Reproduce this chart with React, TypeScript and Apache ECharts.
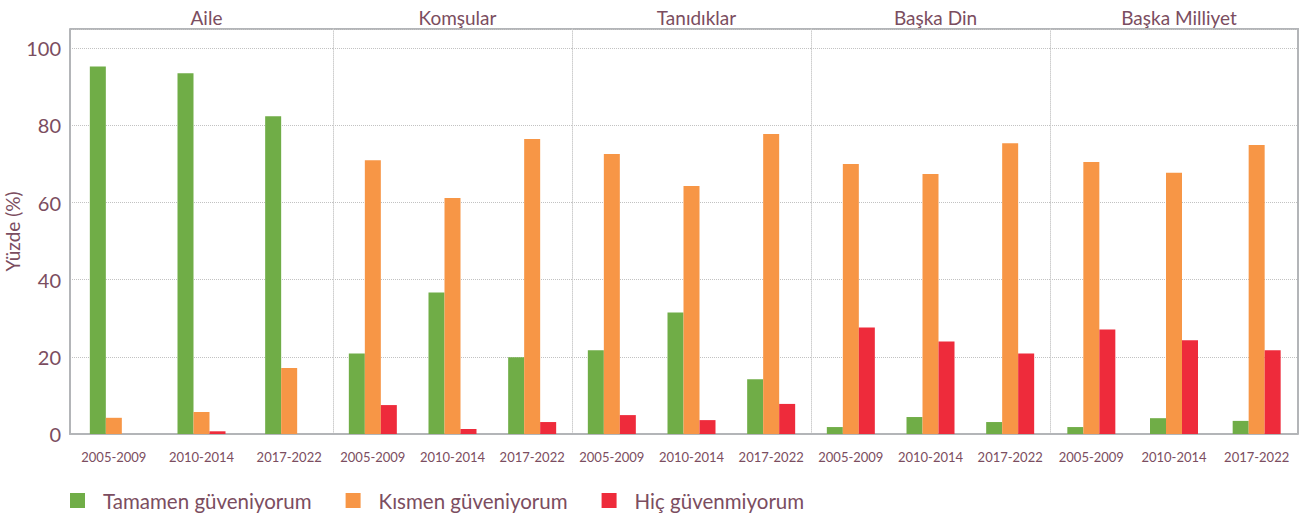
import React, { useEffect, useRef } from "react";
import * as echarts from "echarts";

const groups = ["Aile", "Komşular", "Tanıdıklar", "Başka Din", "Başka Milliyet"];
const periods = ["2005-2009", "2010-2014", "2017-2022"];
const seriesNames = ["Tamamen güveniyorum", "Kısmen güveniyorum", "Hiç güvenmiyorum"];

// values per group, per period
const tamamen = [
  [95.3, 93.5, 82.4],
  [20.9, 36.7, 19.9],
  [21.7, 31.5, 14.2],
  [1.8, 4.4, 3.1],
  [1.8, 4.1, 3.4],
];
const kismen = [
  [4.2, 5.7, 17.1],
  [71.0, 61.2, 76.5],
  [72.6, 64.3, 77.8],
  [70.0, 67.4, 75.4],
  [70.5, 67.7, 74.9],
];
const hic = [
  [0, 0.7, 0],
  [7.5, 1.3, 3.1],
  [4.9, 3.6, 7.8],
  [27.6, 24.0, 20.9],
  [27.1, 24.3, 21.7],
];
const yTicks = [0, 20, 40, 60, 80, 100];

const colors = ["#70ad47", "#f79646", "#ee2b3b"];
const textColor = "#7b4d60";
const font = "Lato, 'Open Sans', sans-serif";

// facet pixel bounds (layout)
const facetEdges = [70, 333, 572, 811, 1050, 1298];
const gridTop = 29;
const gridBottomY = 434;
const H = 521;

export default function App() {
  const ref = useRef<HTMLDivElement>(null);
  useEffect(() => {
    document.body.style.margin = "0";
    const chart = echarts.init(ref.current!, null, { renderer: "svg" });
    const allData = [tamamen, kismen, hic];
    const grids = groups.map((_, i) => ({
      left: facetEdges[i],
      width: facetEdges[i + 1] - facetEdges[i],
      top: gridTop,
      bottom: H - gridBottomY,
    }));
    const xAxes = groups.map((_, i) => ({
      type: "category",
      gridIndex: i,
      data: periods,
      axisLine: { show: true, lineStyle: { color: "#b3b5b8", width: 2 } },
      axisTick: { show: false },
      axisLabel: { color: textColor, fontSize: 13, fontFamily: font, margin: 16, interval: 0 },
      splitLine: { show: false },
    }));
    const yAxes = groups.map((_, i) => ({
      type: "value",
      gridIndex: i,
      min: yTicks[0],
      max: 105,
      interval: 20,
      name: i === 0 ? "Yüzde (%)" : "",
      nameLocation: "middle",
      nameGap: 43,
      nameTextStyle: { color: textColor, fontSize: 19, fontFamily: font },
      axisLine: {
        show: true,
        lineStyle:
          i === 0
            ? { color: "#b3b5b8", width: 2 }
            : { color: "#cfcfcf", width: 1, type: "dotted" },
      },
      axisTick: { show: false },
      axisLabel: {
        show: i === 0,
        showMaxLabel: false,
        color: textColor,
        fontSize: 20,
        fontFamily: font,
        margin: 9,
      },
      splitLine: { show: true, lineStyle: { color: "#c2c2c2", type: "dotted", width: 1 } },
    }));
    const series: any[] = [];
    groups.forEach((_, gi) => {
      seriesNames.forEach((name, si) => {
        series.push({
          type: "bar",
          name,
          xAxisIndex: gi,
          yAxisIndex: gi,
          data: allData[si][gi],
          barWidth: 16,
          barGap: "0%",
          itemStyle: { color: colors[si] },
        });
      });
    });
    const titles = groups.map((g, i) => ({
      text: g,
      left: (facetEdges[i] + facetEdges[i + 1]) / 2,
      top: 3,
      textAlign: "center",
      textStyle: { color: textColor, fontSize: 19, fontWeight: "normal", fontFamily: font },
    }));
    chart.setOption({
      animation: false,
      color: colors,
      title: titles,
      grid: grids,
      xAxis: xAxes,
      yAxis: yAxes,
      series,
      legend: {
        data: seriesNames,
        left: 65,
        bottom: 5,
        icon: "rect",
        itemWidth: 15,
        itemHeight: 15,
        itemGap: 34,
        textStyle: { color: textColor, fontSize: 20.5, fontFamily: font, padding: [0, 0, 0, 13] },
      },
      graphic: [
        {
          type: "polyline",
          shape: {
            points: [
              [facetEdges[0], gridTop],
              [facetEdges[5], gridTop],
              [facetEdges[5], gridBottomY],
            ],
          },
          style: { stroke: "#b3b5b8", lineWidth: 2, fill: "none" },
          silent: true,
        },
      ],
    });
    return () => chart.dispose();
  }, []);
  return <div ref={ref} style={{ width: 1307, height: 521 }} />;
}
